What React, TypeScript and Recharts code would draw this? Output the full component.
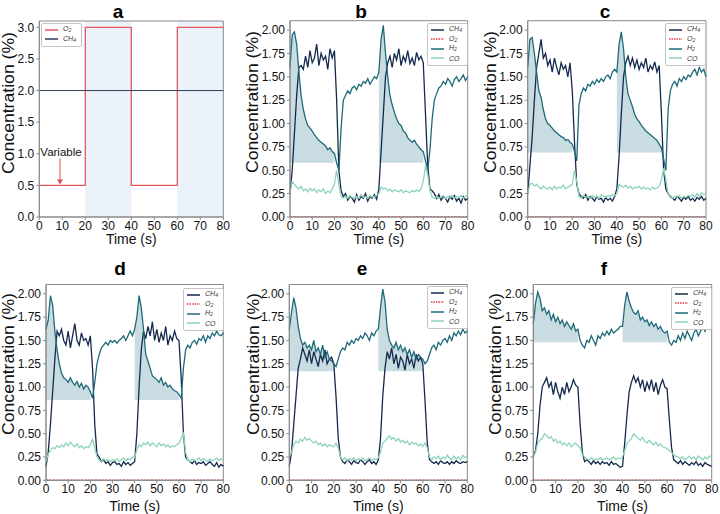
import React from "react";
import {
  ComposedChart,
  Line,
  Area,
  XAxis,
  YAxis,
  ReferenceArea,
  ReferenceDot,
  Legend,
} from "recharts";

// sample times, 1 s steps
const times = Array.from({ length: 81 }, (_, i) => i);

// panel a (inlet program)
const aTimes = [0, 20, 40, 60, 80];
const aO2 = [0.5, 3.0, 0.5, 3.0, 3.0];
const aCh4 = [2.0, 2.0, 2.0, 2.0, 2.0];
const aBands = [
  [20, 40],
  [60, 80],
];

// O2 outlet stays at zero in b-f
const o2Times = [0, 80];
const o2Vals = [0, 0];

const bCh4 = [0.25, 0.5, 0.9, 1.3, 1.6, 1.62, 1.58, 1.72, 1.6, 1.78, 1.65, 1.7, 1.85, 1.62, 1.75, 1.68, 1.72, 1.58, 1.8, 1.7, 1.78, 1.25, 0.5, 0.28, 0.22, 0.25, 0.18, 0.22, 0.2, 0.16, 0.24, 0.18, 0.22, 0.2, 0.25, 0.17, 0.22, 0.2, 0.24, 0.19, 0.3, 0.7, 1.1, 1.5, 1.65, 1.72, 1.6, 1.75, 1.68, 1.8, 1.62, 1.72, 1.66, 1.78, 1.64, 1.7, 1.62, 1.76, 1.68, 1.72, 1.65, 1.1, 0.55, 0.3, 0.28, 0.25, 0.2, 0.24, 0.18, 0.22, 0.2, 0.16, 0.22, 0.19, 0.23, 0.17, 0.2, 0.15, 0.22, 0.18, 0.2];
const bH2 = [1.6, 1.95, 1.98, 1.85, 1.55, 1.3, 1.15, 1.05, 0.98, 0.95, 0.92, 0.88, 0.85, 0.82, 0.8, 0.78, 0.76, 0.72, 0.74, 0.7, 0.68, 0.58, 0.5, 0.95, 1.25, 1.3, 1.35, 1.32, 1.38, 1.4, 1.36, 1.42, 1.4, 1.45, 1.43, 1.48, 1.42, 1.46, 1.5, 1.48, 1.55, 1.9, 2.05, 1.75, 1.5, 1.3, 1.2, 1.12, 1.05, 1.0, 0.98, 0.92, 0.9, 0.85, 0.82, 0.8, 0.82, 0.78, 0.75, 0.72, 0.7, 0.6, 0.5, 0.72, 1.05, 1.25, 1.32, 1.38, 1.4, 1.45, 1.42, 1.48, 1.45, 1.4, 1.47, 1.5, 1.45, 1.48, 1.52, 1.46, 1.5];
const bCo = [0.25, 0.38, 0.35, 0.32, 0.3, 0.33, 0.28, 0.3, 0.27, 0.31, 0.28, 0.3, 0.26, 0.29, 0.27, 0.3, 0.25, 0.28, 0.26, 0.3, 0.35, 0.5, 0.35, 0.22, 0.2, 0.22, 0.2, 0.23, 0.21, 0.2, 0.22, 0.2, 0.24, 0.21, 0.22, 0.2, 0.23, 0.21, 0.22, 0.23, 0.25, 0.32, 0.3, 0.31, 0.28, 0.3, 0.27, 0.29, 0.28, 0.27, 0.29, 0.26, 0.28, 0.27, 0.26, 0.28, 0.27, 0.29, 0.27, 0.3, 0.38, 0.55, 0.45, 0.28, 0.21, 0.2, 0.22, 0.2, 0.21, 0.23, 0.2, 0.22, 0.21, 0.23, 0.2, 0.22, 0.21, 0.23, 0.2, 0.22, 0.24];

const cCh4 = [0.25, 0.55, 0.85, 1.25, 1.6, 1.75, 1.9, 1.7, 1.75, 1.62, 1.68, 1.55, 1.7, 1.6, 1.52, 1.65, 1.58, 1.62, 1.5, 1.65, 1.35, 0.8, 0.35, 0.25, 0.22, 0.2, 0.24, 0.18, 0.22, 0.2, 0.17, 0.22, 0.19, 0.2, 0.16, 0.21, 0.18, 0.2, 0.17, 0.22, 0.3, 0.65, 1.1, 1.5, 1.65, 1.72, 1.62, 1.7, 1.6, 1.68, 1.58, 1.65, 1.6, 1.7, 1.55, 1.62, 1.58, 1.66, 1.55, 1.62, 1.1, 0.5, 0.3, 0.25, 0.22, 0.2, 0.18, 0.22, 0.2, 0.17, 0.21, 0.19, 0.22, 0.18, 0.2, 0.17, 0.21, 0.19, 0.22, 0.18, 0.2];
const cH2 = [1.6, 1.9, 1.92, 1.75, 1.55, 1.35, 1.28, 1.15, 1.05, 1.0, 0.98, 0.95, 0.92, 0.9, 0.88, 0.86, 0.85, 0.82, 0.83, 0.8, 0.78, 0.7, 0.6, 1.2, 1.32, 1.38, 1.35, 1.42, 1.4, 1.45, 1.42, 1.47, 1.44, 1.48, 1.45, 1.5, 1.52, 1.48, 1.55, 1.58, 1.55, 1.85, 1.98, 1.8, 1.5, 1.32, 1.25, 1.18, 1.1, 1.05, 1.02, 0.98, 0.95, 0.92, 0.9, 0.88, 0.86, 0.84, 0.82, 0.78, 0.74, 0.62, 0.5, 1.15, 1.35, 1.42, 1.45, 1.4, 1.48, 1.45, 1.5, 1.47, 1.52, 1.5, 1.55, 1.58, 1.52, 1.6, 1.55, 1.58, 1.5];
const cCo = [0.25, 0.35, 0.36, 0.33, 0.35, 0.32, 0.3, 0.33, 0.31, 0.3, 0.32, 0.29, 0.33, 0.3, 0.32, 0.31, 0.34, 0.3, 0.32, 0.33, 0.35, 0.5, 0.38, 0.22, 0.2, 0.23, 0.21, 0.22, 0.2, 0.23, 0.21, 0.22, 0.2, 0.24, 0.22, 0.21, 0.23, 0.22, 0.24, 0.23, 0.25, 0.35, 0.33, 0.32, 0.34, 0.31, 0.33, 0.3, 0.32, 0.31, 0.33, 0.3, 0.32, 0.3, 0.31, 0.29, 0.32, 0.3, 0.31, 0.33, 0.4, 0.52, 0.4, 0.25, 0.21, 0.2, 0.22, 0.21, 0.23, 0.2, 0.22, 0.21, 0.23, 0.22, 0.24, 0.21, 0.25, 0.22, 0.26, 0.24, 0.25];

const dCh4 = [0.15, 0.3, 0.6, 0.95, 1.3, 1.6, 1.55, 1.62, 1.5, 1.45, 1.6, 1.42, 1.55, 1.68, 1.5, 1.45, 1.58, 1.5, 1.52, 1.45, 1.55, 1.2, 0.6, 0.28, 0.25, 0.2, 0.22, 0.18, 0.2, 0.16, 0.19, 0.2, 0.17, 0.18, 0.15, 0.2, 0.17, 0.19, 0.16, 0.18, 0.2, 0.5, 1.0, 1.4, 1.6, 1.52, 1.65, 1.55, 1.7, 1.5, 1.62, 1.48, 1.58, 1.5, 1.65, 1.45, 1.55, 1.5, 1.6, 1.52, 1.5, 1.1, 0.5, 0.25, 0.22, 0.2, 0.18, 0.21, 0.17, 0.19, 0.18, 0.2, 0.16, 0.18, 0.2, 0.17, 0.15, 0.19, 0.14, 0.17, 0.15];
const dH2 = [1.62, 1.72, 1.98, 1.88, 1.6, 1.4, 1.25, 1.15, 1.1, 1.08, 1.05, 1.1, 1.05, 1.02, 1.06, 1.0, 1.04, 0.98, 1.02, 1.0, 0.95, 0.88, 1.05, 1.25, 1.35, 1.42, 1.45, 1.48, 1.45, 1.5, 1.48, 1.5, 1.47, 1.5, 1.52, 1.55, 1.5, 1.55, 1.6, 1.55, 1.62, 1.75, 1.98, 1.85, 1.62, 1.35, 1.28, 1.2, 1.12, 1.1, 1.08, 1.05, 1.1, 1.02, 1.05, 1.0, 1.02, 0.98, 0.96, 0.95, 0.92, 0.88, 1.2, 1.4, 1.45, 1.42, 1.48, 1.5, 1.46, 1.52, 1.5, 1.55, 1.48, 1.55, 1.52, 1.58, 1.55, 1.6, 1.56, 1.55, 1.58];
const dCo = [0.2, 0.28, 0.32, 0.35, 0.34, 0.37, 0.35, 0.38, 0.36, 0.4, 0.37, 0.41, 0.38, 0.36, 0.39, 0.35, 0.37, 0.34, 0.36, 0.35, 0.38, 0.44, 0.35, 0.25, 0.22, 0.2, 0.23, 0.21, 0.22, 0.2, 0.22, 0.21, 0.23, 0.2, 0.22, 0.24, 0.21, 0.23, 0.22, 0.25, 0.24, 0.33, 0.38, 0.36, 0.4, 0.38, 0.41, 0.37, 0.4, 0.38, 0.36, 0.4, 0.37, 0.39, 0.36, 0.38, 0.35, 0.37, 0.36, 0.38, 0.4, 0.45, 0.5, 0.3, 0.22, 0.2, 0.23, 0.21, 0.22, 0.24, 0.21, 0.23, 0.22, 0.2, 0.23, 0.21, 0.22, 0.24, 0.21, 0.23, 0.22];

const eCh4 = [0.15, 0.3, 0.6, 0.9, 1.2, 1.3, 1.42, 1.35, 1.28, 1.4, 1.25, 1.38, 1.3, 1.22, 1.35, 1.28, 1.4, 1.25, 1.3, 1.32, 1.25, 0.9, 0.45, 0.25, 0.2, 0.18, 0.22, 0.2, 0.17, 0.21, 0.19, 0.18, 0.22, 0.2, 0.17, 0.2, 0.22, 0.18, 0.2, 0.17, 0.22, 0.45, 0.9, 1.2, 1.38, 1.3, 1.42, 1.25, 1.35, 1.2, 1.32, 1.28, 1.18, 1.35, 1.25, 1.3, 1.2, 1.35, 1.28, 1.32, 1.25, 0.85, 0.4, 0.22, 0.2, 0.18, 0.2, 0.17, 0.21, 0.19, 0.18, 0.2, 0.17, 0.2, 0.18, 0.21, 0.19, 0.18, 0.2, 0.19, 0.2];
const eH2 = [1.62, 1.8, 1.96, 1.85, 1.65, 1.52, 1.45, 1.48, 1.42, 1.45, 1.4, 1.5, 1.38, 1.42, 1.35, 1.45, 1.32, 1.38, 1.3, 1.28, 1.25, 1.22, 1.3, 1.38, 1.42, 1.4, 1.48, 1.45, 1.5, 1.47, 1.52, 1.5, 1.55, 1.52, 1.58, 1.55, 1.5, 1.58, 1.55, 1.6, 1.62, 1.85, 2.05, 1.92, 1.62, 1.5, 1.45, 1.42, 1.48, 1.4, 1.45, 1.38, 1.42, 1.35, 1.4, 1.32, 1.38, 1.3, 1.35, 1.32, 1.3, 1.25, 1.28, 1.35, 1.42, 1.45, 1.4, 1.48, 1.45, 1.5, 1.52, 1.48, 1.55, 1.5, 1.58, 1.55, 1.6, 1.56, 1.62, 1.58, 1.6];
const eCo = [0.25, 0.3, 0.38, 0.42, 0.4, 0.44, 0.42, 0.46, 0.43, 0.45, 0.42, 0.4, 0.42, 0.38, 0.4, 0.37, 0.39, 0.36, 0.38, 0.37, 0.36, 0.4, 0.35, 0.25, 0.22, 0.24, 0.21, 0.23, 0.22, 0.24, 0.21, 0.23, 0.22, 0.24, 0.21, 0.22, 0.24, 0.21, 0.23, 0.22, 0.24, 0.3, 0.4, 0.42, 0.45, 0.48, 0.44, 0.46, 0.42, 0.45, 0.41, 0.43, 0.4, 0.42, 0.38, 0.41, 0.39, 0.4, 0.37, 0.39, 0.36, 0.4, 0.35, 0.25, 0.22, 0.25, 0.23, 0.26, 0.22, 0.25, 0.23, 0.27, 0.24, 0.22, 0.26, 0.23, 0.25, 0.22, 0.27, 0.24, 0.26];

const fCh4 = [0.25, 0.32, 0.5, 0.8, 1.0, 1.05, 1.1, 1.0, 1.05, 0.92, 1.05, 0.95, 0.88, 1.0, 0.92, 1.05, 0.95, 1.0, 1.08, 1.02, 1.0, 0.6, 0.3, 0.2, 0.22, 0.2, 0.17, 0.21, 0.18, 0.2, 0.17, 0.2, 0.18, 0.19, 0.16, 0.2, 0.17, 0.18, 0.16, 0.14, 0.15, 0.4, 0.7, 0.95, 1.05, 1.12, 1.05, 1.1, 1.0, 1.08, 0.95, 1.05, 0.98, 1.08, 0.95, 1.05, 0.92, 1.02, 1.08, 1.0, 0.98, 0.65, 0.35, 0.22, 0.2, 0.18, 0.21, 0.17, 0.2, 0.18, 0.16, 0.19, 0.17, 0.2, 0.16, 0.18, 0.15, 0.19, 0.17, 0.16, 0.15];
const fH2 = [1.68, 1.9, 2.02, 1.95, 1.82, 1.85, 1.78, 1.82, 1.72, 1.78, 1.7, 1.75, 1.68, 1.72, 1.65, 1.7, 1.66, 1.62, 1.68, 1.6, 1.62, 1.5, 1.45, 1.42, 1.5, 1.48, 1.55, 1.5, 1.45, 1.55, 1.52, 1.58, 1.55, 1.6, 1.56, 1.62, 1.58, 1.6, 1.62, 1.65, 1.65, 1.88, 2.02, 1.92, 1.85, 1.8, 1.78, 1.82, 1.72, 1.75, 1.7, 1.72, 1.66, 1.7, 1.65, 1.68, 1.62, 1.65, 1.6, 1.58, 1.6, 1.48, 1.45, 1.5, 1.48, 1.55, 1.5, 1.58, 1.52, 1.6, 1.55, 1.5, 1.58, 1.62, 1.55, 1.6, 1.65, 1.6, 1.68, 1.62, 1.65];
const fCo = [0.25, 0.3, 0.4, 0.43, 0.45, 0.5, 0.48, 0.45, 0.47, 0.42, 0.44, 0.4, 0.42, 0.38, 0.4, 0.37, 0.4, 0.36, 0.38, 0.4, 0.37, 0.35, 0.28, 0.25, 0.23, 0.22, 0.24, 0.22, 0.23, 0.22, 0.24, 0.22, 0.23, 0.24, 0.22, 0.23, 0.25, 0.22, 0.24, 0.23, 0.25, 0.32, 0.4, 0.42, 0.45, 0.5, 0.47, 0.45, 0.43, 0.46, 0.42, 0.4, 0.43, 0.4, 0.38, 0.41, 0.37, 0.39, 0.36, 0.35, 0.34, 0.32, 0.3, 0.27, 0.26, 0.25, 0.23, 0.25, 0.22, 0.24, 0.26, 0.23, 0.25, 0.22, 0.26, 0.24, 0.22, 0.25, 0.23, 0.26, 0.25];

// shaded H2 windows and their baselines
const shadeWindows = [
  [0, 20],
  [40, 60],
];
const baselines = { b: 0.58, c: 0.69, d: 0.86, e: 1.17, f: 1.48 };

const xTicks = [0, 10, 20, 30, 40, 50, 60, 70, 80];
const yTicksA = [0, 0.5, 1.0, 1.5, 2.0, 2.5, 3.0];
const yTicksGas = [0, 0.25, 0.5, 0.75, 1.0, 1.25, 1.5, 1.75, 2.0];

const CH4_C = "#14294d";
const H2_C = "#1d6a78";
const CO_C = "#8ed3bb";
const O2_C = "#e8413c";
const SHADE_C = "#c8dce1";
const AXIS_C = "#8a8a8a";
const FONT = "'Liberation Sans', Arial, sans-serif";

type Entry = { name: string; sub: string; color: string; dotted?: boolean };
const legendGas: Entry[] = [
  { name: "CH", sub: "4", color: CH4_C },
  { name: "O", sub: "2", color: O2_C, dotted: true },
  { name: "H", sub: "2", color: H2_C },
  { name: "CO", sub: "", color: CO_C },
];
const legendA: Entry[] = [
  { name: "O", sub: "2", color: "#e4575a" },
  { name: "CH", sub: "4", color: "#2b3f5c" },
];

function rowsFor(ch4: number[], h2: number[], co: number[]) {
  return times.map((t, i) => {
    const inWin = shadeWindows.some(([s, e]) => t >= s && t <= e);
    return { t, ch4: ch4[i], h2: h2[i], co: co[i], shade: inWin ? h2[i] : null };
  });
}

const o2Rows = o2Times.map((t, i) => ({ t, o2: o2Vals[i] }));
const aRows = aTimes.map((t, i) => ({ t, o2: aO2[i], ch4: aCh4[i] }));

type Frame = {
  left: number; top: number; w: number; h: number;
  x0: number; x1: number; y0: number; y1: number;
  ylabX: number; ylabY: number; xlabY: number;
  legX: number; legY: number;
};

function LegendBox({ entries }: { entries: Entry[] }) {
  return (
    <div
      style={{
        background: "#fff",
        border: "1px solid #c4c4c4",
        borderRadius: 2,
        padding: "1px 5px 2px 3px",
        fontFamily: FONT,
        fontStyle: "italic",
        fontSize: 7,
        color: "#333",
        lineHeight: "9.5px",
      }}
    >
      {entries.map((e) => (
        <div key={e.name + e.sub} style={{ display: "flex", alignItems: "center", height: 9.5 }}>
          <svg width={13} height={4} style={{ marginRight: 5, display: "block" }}>
            <line
              x1={0}
              y1={2}
              x2={13}
              y2={2}
              stroke={e.color}
              strokeWidth={1.5}
              strokeDasharray={e.dotted ? "1.5 1" : undefined}
            />
          </svg>
          <span>
            {e.name}
            {e.sub && <sub style={{ fontSize: 5, verticalAlign: "-1px" }}>{e.sub}</sub>}
          </span>
        </div>
      ))}
    </div>
  );
}

function axes(f: Frame, ticks: number[], domainTop: number, digits: number) {
  const yw = f.x0 - f.left;
  const xh = f.top + f.h - f.y1;
  return [
    <XAxis
      key="x"
      type="number"
      dataKey="t"
      domain={[0, 80]}
      ticks={xTicks}
      height={xh}
      stroke={AXIS_C}
      tickSize={3}
      tickMargin={1}
      tick={{ fill: "#111", fontSize: 12, fontFamily: FONT }}
      label={() => (
        <text
          x={(f.x0 + f.x1) / 2 - f.left}
          y={f.xlabY - f.top}
          textAnchor="middle"
          dominantBaseline="central"
          fontSize={14}
          fontFamily={FONT}
          fill="#111"
        >
          Time (s)
        </text>
      )}
    />,
    <YAxis
      key="y"
      type="number"
      domain={[0, domainTop]}
      ticks={ticks}
      width={yw}
      stroke={AXIS_C}
      tickSize={3}
      tickMargin={2}
      tick={{ fill: "#111", fontSize: 12, fontFamily: FONT }}
      tickFormatter={(v: number) => v.toFixed(digits)}
      allowDataOverflow
      label={() => {
        const x = f.ylabX - f.left;
        const y = f.ylabY - f.top;
        return (
          <text
            x={x}
            y={y}
            transform={`rotate(-90, ${x}, ${y})`}
            textAnchor="middle"
            dominantBaseline="central"
            fontSize={16}
            fontFamily={FONT}
            fill="#111"
            textLength={142}
            lengthAdjust="spacingAndGlyphs"
          >
            Concentration (%)
          </text>
        );
      }}
    />,
  ];
}

function margins(f: Frame) {
  return { top: f.y0 - f.top, right: f.left + f.w - f.x1, left: 0, bottom: 0 };
}

function PanelA({ f }: { f: Frame }) {
  return (
    <div style={{ position: "absolute", left: f.left, top: f.top }}>
      <ComposedChart width={f.w} height={f.h} data={aRows} margin={margins(f)}>
        {aBands.map(([s, e]) => (
          <ReferenceArea key={s} x1={s} x2={e} y1={0} y2={3.1} fill="#ecf2f9" fillOpacity={1} stroke="none" />
        ))}
        {axes(f, yTicksA, 3.1, 1)}
        <Line type="stepAfter" dataKey="o2" stroke="#e4575a" strokeWidth={1.3} dot={false} isAnimationActive={false} />
        <Line type="linear" dataKey="ch4" stroke="#2b3f5c" strokeWidth={1} dot={false} isAnimationActive={false} />
        <ReferenceDot
          x={9}
          y={0.5}
          r={0}
          shape={(p: any) => (
            <g>
              <line x1={p.cx} y1={p.cy - 27} x2={p.cx} y2={p.cy - 4} stroke="#d9534f" strokeWidth={1} />
              <polygon
                points={`${p.cx - 3},${p.cy - 6} ${p.cx + 3},${p.cy - 6} ${p.cx},${p.cy - 1}`}
                fill="#d9534f"
              />
              <text
                x={p.cx + 1}
                y={p.cy - 33}
                textAnchor="middle"
                dominantBaseline="central"
                fontSize={11.5}
                fontFamily={FONT}
                fill="#111"
              >
                Variable
              </text>
            </g>
          )}
        />
        <ReferenceArea x1={0} x2={80} y1={0} y2={3.1} fill="none" stroke={AXIS_C} strokeWidth={1} />
        <Legend
          layout="vertical"
          align="center"
          verticalAlign="middle"
          wrapperStyle={{ left: f.legX - f.left, top: f.legY - f.top, width: "auto" }}
          content={() => <LegendBox entries={legendA} />}
        />
      </ComposedChart>
    </div>
  );
}

function GasPanel({ f, ch4, h2, co, base }: { f: Frame; ch4: number[]; h2: number[]; co: number[]; base: number }) {
  const rows = rowsFor(ch4, h2, co);
  return (
    <div style={{ position: "absolute", left: f.left, top: f.top }}>
      <ComposedChart width={f.w} height={f.h} data={rows} margin={margins(f)}>
        {axes(f, yTicksGas, 2.1, 2)}
        <Area
          type="linear"
          dataKey="shade"
          baseValue={base}
          stroke="none"
          fill={SHADE_C}
          fillOpacity={1}
          connectNulls={false}
          legendType="none"
          isAnimationActive={false}
        />
        <Line type="linear" dataKey="ch4" stroke={CH4_C} strokeWidth={1.3} dot={false} isAnimationActive={false} />
        <Line
          type="linear"
          data={o2Rows}
          dataKey="o2"
          stroke={O2_C}
          strokeWidth={1.5}
          strokeDasharray="2 1.5"
          dot={false}
          isAnimationActive={false}
        />
        <Line type="linear" dataKey="h2" stroke={H2_C} strokeWidth={1.3} dot={false} isAnimationActive={false} />
        <Line type="linear" dataKey="co" stroke={CO_C} strokeWidth={1.3} dot={false} isAnimationActive={false} />
        <ReferenceArea x1={0} x2={80} y1={0} y2={2.1} fill="none" stroke={AXIS_C} strokeWidth={1} />
        <Legend
          layout="vertical"
          align="center"
          verticalAlign="middle"
          wrapperStyle={{ left: f.legX - f.left, top: f.legY - f.top, width: "auto" }}
          content={() => <LegendBox entries={legendGas} />}
        />
      </ComposedChart>
    </div>
  );
}

const frameA: Frame = { left: 0, top: 0, w: 240, h: 257, x0: 39.3, x1: 223.3, y0: 21, y1: 217, ylabX: 8, ylabY: 103, xlabY: 239, legX: 41, legY: 23 };
const frameB: Frame = { left: 240, top: 0, w: 240, h: 257, x0: 290, x1: 467.7, y0: 20.7, y1: 217, ylabX: 252, ylabY: 102, xlabY: 239, legX: 427, legY: 23 };
const frameC: Frame = { left: 480, top: 0, w: 240, h: 257, x0: 527.7, x1: 706, y0: 20.7, y1: 217, ylabX: 490, ylabY: 102, xlabY: 239, legX: 665, legY: 23 };
const frameD: Frame = { left: 0, top: 257, w: 240, h: 257, x0: 46, x1: 223.3, y0: 284.5, y1: 480.3, ylabX: 8, ylabY: 364, xlabY: 506, legX: 183, legY: 288 };
const frameE: Frame = { left: 240, top: 257, w: 240, h: 257, x0: 289.3, x1: 467.3, y0: 284.5, y1: 480.3, ylabX: 253, ylabY: 364, xlabY: 506, legX: 427, legY: 286 };
const frameF: Frame = { left: 480, top: 257, w: 240, h: 257, x0: 533.3, x1: 711.7, y0: 284.5, y1: 480.3, ylabX: 495, ylabY: 364, xlabY: 506, legX: 671, legY: 287 };

const titles = [
  { t: "a", x: 118, y: 18 },
  { t: "b", x: 361, y: 18 },
  { t: "c", x: 605, y: 18 },
  { t: "d", x: 120, y: 275 },
  { t: "e", x: 362, y: 275 },
  { t: "f", x: 604, y: 275 },
];

export default function App() {
  return (
    <div style={{ position: "absolute", left: 0, top: 0, width: 720, height: 514, background: "#fff", overflow: "hidden" }}>
      <PanelA f={frameA} />
      <GasPanel f={frameB} ch4={bCh4} h2={bH2} co={bCo} base={baselines.b} />
      <GasPanel f={frameC} ch4={cCh4} h2={cH2} co={cCo} base={baselines.c} />
      <GasPanel f={frameD} ch4={dCh4} h2={dH2} co={dCo} base={baselines.d} />
      <GasPanel f={frameE} ch4={eCh4} h2={eH2} co={eCo} base={baselines.e} />
      <GasPanel f={frameF} ch4={fCh4} h2={fH2} co={fCo} base={baselines.f} />
      <svg width={720} height={514} style={{ position: "absolute", left: 0, top: 0, pointerEvents: "none" }}>
        {titles.map((t) => (
          <text key={t.t} x={t.x} y={t.y} textAnchor="middle" fontSize={19} fontWeight="bold" fontFamily={FONT} fill="#000">
            {t.t}
          </text>
        ))}
      </svg>
    </div>
  );
}
